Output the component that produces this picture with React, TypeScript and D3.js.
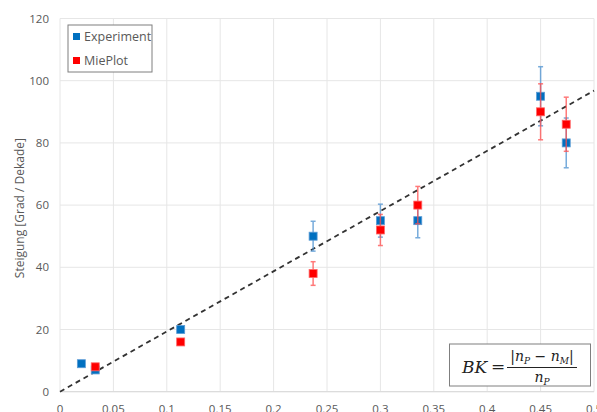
import React from "react";
import * as d3 from "d3";

const expX = [0.02, 0.033, 0.113, 0.237, 0.3, 0.335, 0.45, 0.474];
const expY = [9, 7, 20, 50, 55, 55, 95, 80];
const expErr = [0, 0, 0, 4.8, 5.3, 5.5, 9.5, 8];

const mieX = [0.033, 0.113, 0.237, 0.3, 0.335, 0.45, 0.474];
const mieY = [8, 16, 38, 52, 60, 90, 86];
const mieErr = [0, 0.8, 3.8, 5, 6, 9, 8.7];

const xTicks = [0, 0.05, 0.1, 0.15, 0.2, 0.25, 0.3, 0.35, 0.4, 0.45, 0.5];
const yTicks = [0, 20, 40, 60, 80, 100, 120];
const fitSlope = 193.6;

const W = 597;
const H = 412;
const font = "'Open Sans', 'Noto Sans', sans-serif";

export default function App() {
  const x = d3.scaleLinear().domain([0, 0.5]).range([60, 594]);
  const y = d3.scaleLinear().domain([0, 120]).range([391.7, 18.5]);

  const series = [
    { xs: expX, ys: expY, es: expErr, fill: "#0070C0", stroke: "#5B9BD5", err: "#4A90D0" },
    { xs: mieX, ys: mieY, es: mieErr, fill: "#FF0000", stroke: "#FF6666", err: "#FF4D4D" },
  ];

  const line = d3.line<number>().x((d) => x(d)).y((d) => y(d * fitSlope));
  const ms = 8;

  return (
    <svg width={W} height={H} style={{ position: "absolute", left: 0, top: 0, background: "#fff" }}>
      {/* grid */}
      {yTicks.map((t) => (
        <line key={"gy" + t} x1={x(0)} x2={x(0.5)} y1={y(t)} y2={y(t)} stroke="#e6e6e6" strokeWidth={1} />
      ))}
      {xTicks.map((t) => (
        <line key={"gx" + t} x1={x(t)} x2={x(t)} y1={y(0)} y2={y(120)} stroke="#e6e6e6" strokeWidth={1} />
      ))}
      <line x1={x(0)} x2={x(0.5)} y1={y(0)} y2={y(0)} stroke="#d9d9d9" strokeWidth={1} />

      {/* tick labels */}
      {yTicks.map((t) => (
        <text key={"ty" + t} x={49} y={y(t)} dy="0.35em" textAnchor="end" fontSize={11.5} fill="#595959" fontFamily={font}>
          {t}
        </text>
      ))}
      {xTicks.map((t) => (
        <text key={"tx" + t} x={x(t)} y={413} textAnchor="middle" fontSize={11.5} fill="#595959" fontFamily={font}>
          {String(t)}
        </text>
      ))}

      {/* y axis title */}
      <text
        transform={`translate(20,${y(60) + 3}) rotate(-90)`}
        textAnchor="middle"
        dy="0.35em"
        fontSize={12}
        fill="#595959"
        fontFamily={font}
      >
        Steigung [Grad / Dekade]
      </text>

      {/* fit line */}
      <path d={line([0, 0.5]) || ""} fill="none" stroke="#333" strokeWidth={1.8} strokeDasharray="5,4" />

      {/* error bars + markers */}
      {series.map((s, si) => (
        <g key={"s" + si}>
          {s.xs.map((xv, i) =>
            s.es[i] > 0 ? (
              <g key={"e" + i} stroke={s.err} strokeWidth={1.5} opacity={0.75}>
                <line x1={x(xv)} x2={x(xv)} y1={y(s.ys[i] - s.es[i])} y2={y(s.ys[i] + s.es[i])} />
                <line x1={x(xv) - 2.5} x2={x(xv) + 2.5} y1={y(s.ys[i] - s.es[i])} y2={y(s.ys[i] - s.es[i])} />
                <line x1={x(xv) - 2.5} x2={x(xv) + 2.5} y1={y(s.ys[i] + s.es[i])} y2={y(s.ys[i] + s.es[i])} />
              </g>
            ) : null
          )}
          {s.xs.map((xv, i) => (
            <rect
              key={"m" + i}
              x={x(xv) - ms / 2}
              y={y(s.ys[i]) - ms / 2}
              width={ms}
              height={ms}
              fill={s.fill}
              stroke={s.stroke}
              strokeWidth={0.8}
            />
          ))}
        </g>
      ))}

      {/* legend */}
      <rect x={68} y={25} width={84} height={47} fill="#fff" stroke="#7f7f7f" strokeWidth={1} />
      <rect x={73} y={33} width={7} height={7} fill="#0070C0" />
      <text x={84} y={36.5} dy="0.35em" fontSize={12.5} fill="#595959" fontFamily={font}>
        Experiment
      </text>
      <rect x={73} y={57} width={7} height={7} fill="#FF0000" />
      <text x={84} y={60.5} dy="0.35em" fontSize={12.5} fill="#595959" fontFamily={font}>
        MiePlot
      </text>

      {/* formula box */}
      <rect x={449.5} y={344} width={141} height={42} fill="#fff" stroke="#7f7f7f" strokeWidth={1} />
      <g fontFamily="'DejaVu Serif', 'Liberation Serif', serif" fill="#222">
        <text x={462} y={373} fontSize={17} fontStyle="italic">
          BK
        </text>
        <text x={491} y={372} fontSize={17}>
          =
        </text>
        <line x1={507} x2={577} y1={367.5} y2={367.5} stroke="#222" strokeWidth={1} />
        <text x={542} y={361} fontSize={14} textAnchor="middle">
          <tspan>|</tspan>
          <tspan fontStyle="italic">n</tspan>
          <tspan fontStyle="italic" fontSize={9} dy={3}>P</tspan>
          <tspan dy={-3}> − </tspan>
          <tspan fontStyle="italic">n</tspan>
          <tspan fontStyle="italic" fontSize={9} dy={3}>M</tspan>
          <tspan dy={-3}>|</tspan>
        </text>
        <text x={542} y={382} fontSize={14} textAnchor="middle">
          <tspan fontStyle="italic">n</tspan>
          <tspan fontStyle="italic" fontSize={9} dy={3}>P</tspan>
        </text>
      </g>
    </svg>
  );
}
